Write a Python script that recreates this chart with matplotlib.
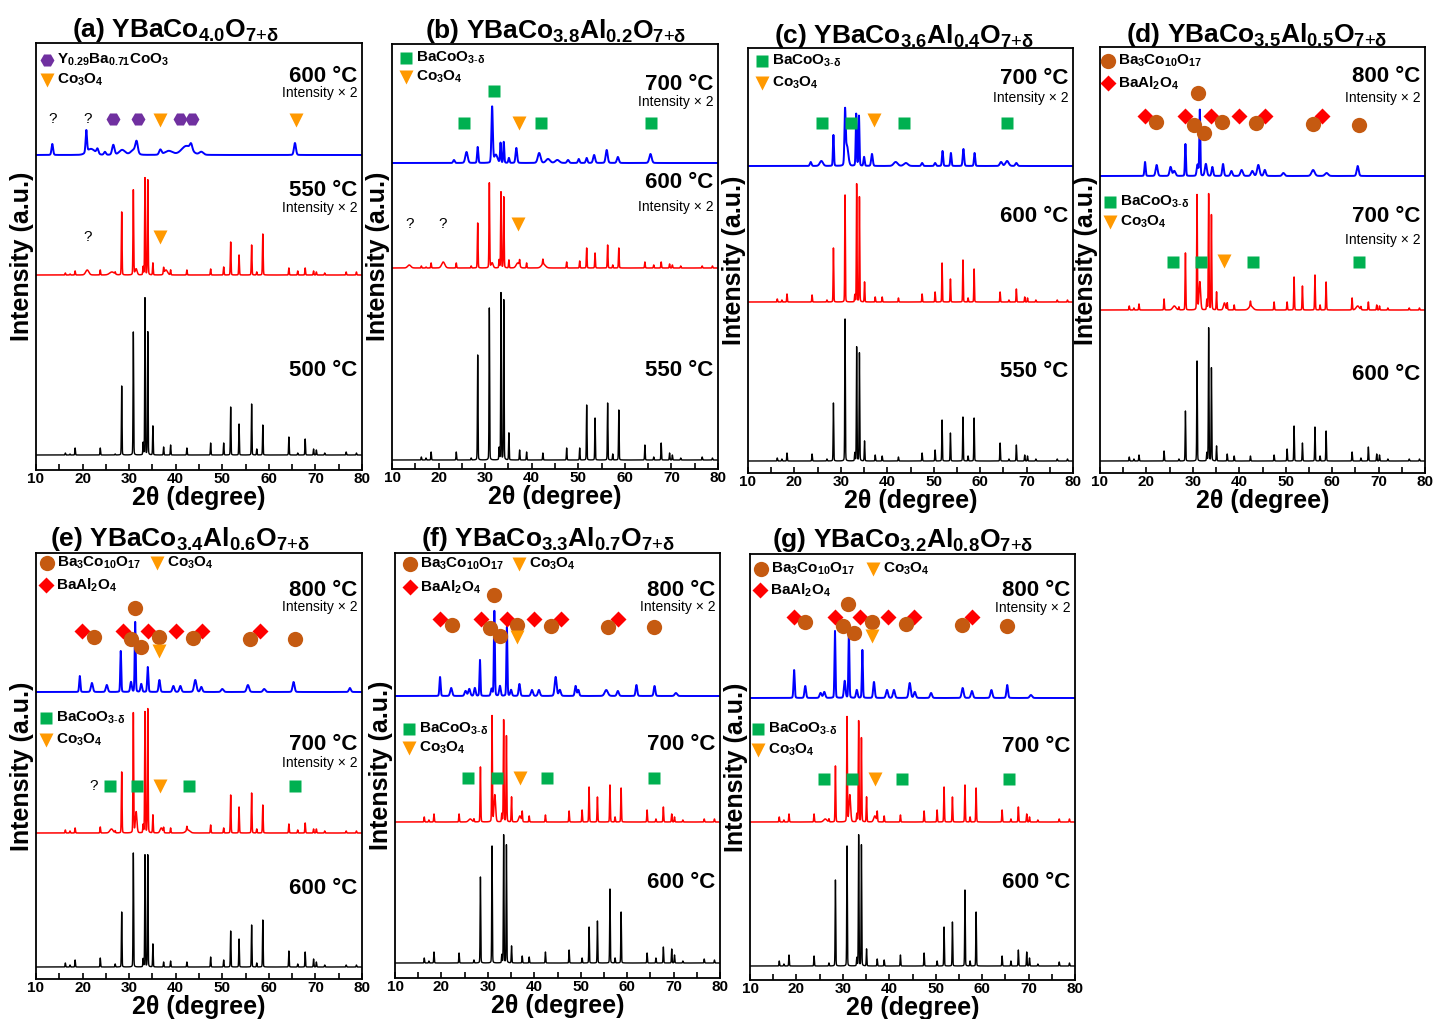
import numpy as np
import matplotlib
matplotlib.use('Agg')
import matplotlib.pyplot as plt
from matplotlib.transforms import blended_transform_factory

plt.rcParams['font.family'] = ['Liberation Sans', 'DejaVu Sans']
plt.rcParams['mathtext.fontset'] = 'custom'
plt.rcParams['mathtext.rm'] = 'Liberation Sans'
plt.rcParams['mathtext.bf'] = 'Liberation Sans:bold'
plt.rcParams['mathtext.it'] = 'Liberation Sans:italic'
plt.rcParams['mathtext.default'] = 'bf'

# ---------------------------------------------------------------- data
# reflections of the main YBaCo4O7-type phase (2theta, deg)
MAIN_POS = [16.3, 17.3, 18.4, 23.8, 27.0, 28.4, 30.9, 33.0, 33.4, 34.0,
            35.1, 37.4, 38.9, 42.4, 47.5, 50.3, 51.8, 53.6, 56.3, 57.4,
            58.7, 64.3, 66.2, 67.8, 69.6, 70.2, 72.0, 76.6, 78.8]

# peak heights (a.u.) of the main phase, one list per pattern
a_500 = [2, 1, 7, 7, 1, 69, 123, 12, 157, 123, 29, 8, 10, 7, 12, 12, 48, 31, 51, 6, 30, 18, 2, 16, 6, 5, 2, 3, 2]
a_550 = [2, 1, 4, 5, 2, 63, 85, 8, 97, 95, 12, 6, 5, 5, 6, 8, 33, 20, 30, 3, 41, 7, 4, 7, 4, 3, 2, 3, 3]
b_550 = [3, 2, 8, 8, 2, 105, 152, 12, 167, 160, 27, 10, 8, 7, 12, 12, 55, 42, 57, 6, 50, 15, 3, 17, 7, 5, 2, 3, 2]
b_600 = [2, 1, 5, 5, 2, 45, 85, 8, 76, 71, 8, 6, 5, 5, 6, 7, 20, 15, 23, 3, 20, 6, 3, 6, 4, 3, 2, 2, 2]
c_550 = [3, 2, 8, 7, 2, 58, 142, 8, 114, 108, 20, 6, 5, 4, 8, 11, 41, 28, 44, 5, 43, 18, 2, 16, 6, 5, 2, 2, 2]
c_600 = [3, 2, 8, 7, 2, 54, 107, 7, 118, 105, 20, 5, 5, 4, 8, 10, 39, 23, 42, 4, 33, 10, 2, 13, 5, 4, 2, 2, 2]
d_600 = [4, 2, 6, 10, 2, 50, 100, 8, 133, 93, 15, 7, 5, 5, 6, 12, 35, 18, 34, 5, 30, 9, 3, 14, 7, 6, 2, 2, 2]
d_700 = [4, 2, 6, 11, 3, 57, 115, 10, 116, 95, 18, 7, 5, 5, 8, 8, 33, 24, 35, 5, 28, 12, 3, 8, 5, 4, 2, 2, 2]
e_600 = [4, 2, 7, 9, 3, 55, 114, 8, 112, 112, 23, 5, 6, 5, 10, 7, 36, 28, 42, 4, 47, 16, 3, 15, 8, 5, 2, 2, 2]
e_700 = [3, 2, 5, 6, 2, 61, 120, 8, 121, 124, 18, 5, 5, 4, 8, 5, 38, 26, 40, 4, 28, 9, 3, 10, 4, 4, 2, 2, 2]
f_600 = [5, 2, 11, 10, 3, 86, 117, 8, 128, 118, 17, 7, 6, 11, 13, 5, 36, 42, 74, 5, 51, 10, 5, 16, 14, 8, 2, 4, 3]
f_700 = [5, 2, 8, 8, 3, 55, 106, 8, 102, 86, 25, 10, 6, 7, 11, 12, 35, 25, 37, 5, 34, 12, 3, 15, 8, 5, 2, 3, 3]
g_600 = [5, 2, 11, 10, 3, 86, 120, 8, 131, 121, 17, 7, 6, 11, 13, 5, 39, 44, 76, 5, 54, 10, 5, 16, 14, 8, 2, 4, 3]
g_700 = [5, 2, 8, 8, 3, 56, 105, 8, 101, 84, 25, 10, 6, 7, 11, 12, 35, 25, 37, 5, 34, 12, 3, 15, 8, 5, 2, 3, 3]

# extra / secondary-phase peaks: (2theta, height, fwhm)
a_550_extra = [(21.0, 5, 0.8), (26.3, 3, 1.2), (31.5, 6, 0.5), (37.9, 5, 0.8)]
b_600_extra = [(13.7, 3, 0.8), (21.0, 6, 0.8), (31.5, 5, 0.5), (37.0, 5, 0.8), (42.5, 4, 1.0)]
d_700_extra = [(26.0, 4, 0.8), (31.5, 28, 0.4), (36.8, 7, 0.5), (42.5, 4, 1.0), (65.5, 4, 0.8)]
e_700_extra = [(26.2, 4, 0.8), (31.5, 21, 0.4), (36.9, 5, 0.6), (42.6, 3, 1.0)]
f_700_extra = [(26.2, 3, 0.8), (31.5, 27, 0.4), (36.9, 6, 0.6)]
g_700_extra = [(26.2, 3, 0.8), (31.5, 27, 0.4), (36.9, 6, 0.6)]

# high-temperature (blue) patterns: (2theta, height, fwhm)
a_600 = [(13.5, 11, 0.4), (20.8, 22, 0.35), (21.8, 6, 2.0), (23.2, 5, 0.5), (24.8, 3, 0.5),
         (26.6, 10, 0.6), (28.5, 5, 1.5), (31.0, 5, 1.5), (31.6, 11, 0.6), (36.7, 5, 0.6),
         (38.5, 4, 2.0), (42.3, 9, 2.5), (43.3, 6, 0.6), (45.5, 3, 1.0), (65.6, 12, 0.5)]
b_700 = [(23.3, 3, 0.4), (26.0, 11, 0.6), (28.4, 16, 0.3), (31.5, 56, 0.35), (32.3, 8, 0.8),
         (33.3, 20, 0.25), (34.0, 21, 0.25), (35.1, 5, 0.3), (36.7, 15, 0.4), (41.6, 10, 0.7),
         (43.5, 4, 1.0), (45.5, 3, 1.0), (47.8, 3, 0.5), (50.1, 4, 0.4), (51.8, 5, 0.4),
         (53.4, 8, 0.5), (56.1, 13, 0.5), (58.5, 6, 0.5), (65.5, 9, 0.6)]
c_700 = [(23.5, 4, 0.4), (25.8, 5, 0.8), (28.4, 31, 0.25), (30.9, 50, 0.3), (31.3, 20, 0.7),
         (33.3, 52, 0.25), (33.9, 50, 0.25), (35.0, 9, 0.3), (36.7, 12, 0.4), (41.8, 4, 1.0),
         (44.0, 3, 1.0), (47.5, 3, 0.4), (50.3, 3, 0.4), (51.9, 15, 0.3), (53.7, 13, 0.3),
         (56.4, 17, 0.35), (58.8, 13, 0.3), (64.5, 4, 0.6), (65.8, 5, 0.8), (67.8, 3, 0.5)]
d_800 = [(19.7, 14, 0.3), (22.2, 11, 0.5), (25.2, 9, 0.5), (26.0, 5, 0.6), (28.4, 32, 0.25),
         (31.0, 11, 0.4), (31.5, 66, 0.25), (32.8, 12, 0.5), (34.2, 9, 0.4), (36.5, 12, 0.4),
         (38.3, 5, 0.5), (40.5, 6, 0.6), (42.8, 5, 0.6), (44.1, 11, 0.6), (45.5, 6, 0.5),
         (49.5, 3, 0.6), (55.9, 6, 0.8), (58.8, 3, 0.8), (65.5, 10, 0.5)]
e_800 = [(19.4, 16, 0.3), (22.0, 9, 0.5), (25.2, 7, 0.5), (28.2, 41, 0.25), (30.4, 10, 0.4),
         (31.3, 70, 0.25), (32.6, 8, 0.4), (34.0, 25, 0.3), (36.5, 12, 0.4), (39.5, 6, 0.5),
         (41.0, 6, 0.5), (44.2, 12, 0.6), (45.5, 5, 0.5), (50.0, 3, 0.6), (55.5, 7, 0.6),
         (59.0, 3, 0.6), (65.3, 10, 0.5), (77.4, 4, 0.5)]
f_800 = [(19.7, 19, 0.3), (22.1, 8, 0.5), (25.2, 5, 0.5), (26.0, 7, 0.5), (27.2, 8, 0.4),
         (28.3, 36, 0.25), (30.8, 7, 0.4), (31.4, 85, 0.25), (32.6, 10, 0.4), (34.1, 69, 0.25),
         (35.0, 6, 0.4), (36.8, 12, 0.4), (39.5, 6, 0.5), (41.0, 6, 0.5), (44.6, 19, 0.5),
         (45.5, 6, 0.5), (48.9, 10, 0.4), (49.5, 6, 0.4), (55.5, 6, 0.8), (58.0, 5, 0.5),
         (62.0, 11, 0.4), (65.9, 10, 0.4), (70.5, 3, 0.6)]
g_800 = [(19.5, 28, 0.3), (21.9, 12, 0.4), (25.2, 5, 0.5), (26.0, 6, 0.5), (28.3, 67, 0.25),
         (30.4, 17, 0.4), (31.3, 65, 0.25), (33.0, 8, 0.4), (34.2, 48, 0.25), (36.7, 16, 0.4),
         (39.5, 8, 0.5), (41.0, 8, 0.5), (44.4, 15, 0.5), (45.5, 6, 0.5), (49.0, 5, 0.5),
         (55.8, 10, 0.5), (57.8, 7, 0.5), (62.0, 8, 0.5), (65.4, 13, 0.4), (70.5, 3, 0.6)]

# phase markers (2theta positions)
a_hex = [26.5, 32.0, 40.9, 43.4]
a_tri_600 = [36.6, 65.8]
a_q_600 = [13.5, 21.0]
a_q_550 = [21.0]
a_tri_550 = [36.6]
b_sq = [25.4, 31.8, 42.1, 65.7]
b_tri_700 = [37.2]
b_q_600 = [13.7, 20.9]
b_tri_600 = [37.0]
c_sq = [25.9, 32.2, 43.6, 65.7]
c_tri = [37.1]
d_dia = [19.7, 28.4, 34.0, 39.9, 45.6, 57.9]
d_circ = [22.1, 31.1, 30.2, 32.5, 36.3, 43.7, 55.9, 65.7]
d_sq = [25.7, 31.8, 43.0, 65.8]
d_tri = [36.8]
e_dia = [19.8, 28.6, 34.0, 40.0, 45.6, 58.1]
e_circ = [22.4, 31.3, 30.4, 32.6, 36.4, 43.7, 55.9, 65.6]
e_tri_800 = [36.4]
e_q_700 = [22.3]
e_sq = [25.8, 31.7, 42.8, 65.7]
e_tri_700 = [36.7]
f_dia = [19.7, 28.5, 34.1, 40.0, 45.8, 58.1]
f_circ = [22.2, 31.4, 30.5, 32.6, 36.3, 43.7, 55.9, 65.8]
f_tri_800 = [36.3]
f_sq = [25.8, 31.9, 42.8, 65.8]
f_tri_700 = [36.9]
g_dia = [19.5, 28.3, 33.7, 39.8, 45.4, 57.9]
g_circ = [21.9, 31.0, 30.1, 32.4, 36.2, 43.5, 55.7, 65.4]
g_tri_800 = [36.2]
g_sq = [26.0, 31.9, 42.8, 65.8]
g_tri_700 = [36.9]

# ---------------------------------------------------------------- styles
W, H = 1437, 1019
BLUE, RED, BLACK = '#0000FF', '#FF0000', '#000000'
LW = {BLUE: 1.4, RED: 1.1, BLACK: 1.0}
MK = {
    'hex': dict(marker='H', color='#7030A0', ms=10),
    'tri': dict(marker='v', color='#FF9900', ms=10),
    'sq': dict(marker='s', color='#00B050', ms=8),
    'dia': dict(marker='D', color='#FF0000', ms=8),
    'circ': dict(marker='o', color='#C55A11', ms=11),
}
NAMES = {
    'hex': r'Y$_{0.29}$Ba$_{0.71}$CoO$_{3}$',
    'tri': r'Co$_{3}$O$_{4}$',
    'sq': r'BaCoO$_{3\text{-}\delta}$',
    'dia': r'BaAl$_{2}$O$_{4}$',
    'circ': r'Ba$_{3}$Co$_{10}$O$_{17}$',
}

TT = np.arange(10, 80.0001, 0.02)


def fx(px):
    return px / W


def fy(py):
    return 1 - py / H


def profile(peaks):
    y = np.zeros_like(TT)
    for pos, h, w in peaks:
        s = w / 2.3548
        g = np.exp(-0.5 * ((TT - pos) / s) ** 2)
        lor = 1.0 / (1.0 + ((TT - pos) / (w / 2)) ** 2)
        y += h * (0.85 * g + 0.15 * lor)
    return y


def main_peaks(heights, fwhm):
    return [(p, h, fwhm) for p, h in zip(MAIN_POS, heights)]


def title(letter, comp):
    return '(' + letter + ') YBaCo$_{' + comp[0] + '}$' + \
        ('Al$_{' + comp[1] + '}$' if comp[1] else '') + r'O$_{7\text{+}\delta}$'


fig = plt.figure(figsize=(W / 100, H / 100), dpi=100)

# panel layout: box (l, t, r, b) in px, title, patterns, labels, markers
PANELS = [
    dict(box=(36, 43, 362, 470), title=title('a', ('4.0', None)), tc=(175, 37),
         curves=[(main_peaks(a_500, 0.15), 455, BLACK),
                 (main_peaks(a_550, 0.17) + a_550_extra, 275, RED),
                 (a_600, 155, BLUE)],
         temps=[('600 °C', 76, '× 2', 93), ('550 °C', 190, '× 2', 208), ('500 °C', 370, None, 0)],
         legend=[('hex', 47, 60), ('tri', 47, 80)],
         marks=[('hex', a_hex, 119), ('tri', a_tri_600, 120), ('q', a_q_600, 119),
                ('q', a_q_550, 237), ('tri', a_tri_550, 237)]),
    dict(box=(392, 44, 718, 469), title=title('b', ('3.8', '0.2')), tc=(556, 38),
         curves=[(main_peaks(b_550, 0.15), 460, BLACK),
                 (main_peaks(b_600, 0.17) + b_600_extra, 268, RED),
                 (b_700, 163, BLUE)],
         temps=[('700 °C', 84, '× 2', 102), ('600 °C', 183, '× 2', 207), ('550 °C', 371, None, 0)],
         legend=[('sq', 406, 58), ('tri', 406, 77)],
         marks=[('sq', b_sq, [123, 91, 123, 123]), ('tri', b_tri_700, 123),
                ('q', b_q_600, 224), ('tri', b_tri_600, 224)]),
    dict(box=(748, 48, 1073, 473), title=title('c', ('3.6', '0.4')), tc=(904, 43),
         curves=[(main_peaks(c_550, 0.15), 461, BLACK),
                 (main_peaks(c_600, 0.15), 302, RED),
                 (c_700, 166, BLUE)],
         temps=[('700 °C', 79, '× 2', 98), ('600 °C', 217, None, 0), ('550 °C', 372, None, 0)],
         legend=[('sq', 762, 61), ('tri', 762, 83)],
         marks=[('sq', c_sq, 123), ('tri', c_tri, 120)]),
    dict(box=(1100, 47, 1425, 473), title=title('d', ('3.5', '0.5')), tc=(1257, 42),
         curves=[(main_peaks(d_600, 0.15), 461, BLACK),
                 (main_peaks(d_700, 0.17) + d_700_extra, 310, RED),
                 (d_800, 176, BLUE)],
         temps=[('800 °C', 76, '× 2', 98), ('700 °C', 216, '× 2', 240), ('600 °C', 375, None, 0)],
         legend=[('circ', 1108, 61), ('dia', 1108, 83), ('sq', 1110, 202), ('tri', 1110, 222)],
         marks=[('dia', d_dia, 116), ('circ', d_circ, [122, 93, 125, 133, 122, 123, 124, 125]),
                ('sq', d_sq, 262), ('tri', d_tri, 261)]),
    dict(box=(36, 553, 362, 979), title=title('e', ('3.4', '0.6')), tc=(180, 546),
         curves=[(main_peaks(e_600, 0.15), 967, BLACK),
                 (main_peaks(e_700, 0.17) + e_700_extra, 833, RED),
                 (e_800, 692, BLUE)],
         temps=[('800 °C', 590, '× 2', 607), ('700 °C', 745, '× 2', 763), ('600 °C', 888, None, 0)],
         legend=[('circ', 47, 563), ('tri', 157, 563), ('dia', 46, 585), ('sq', 46, 718), ('tri', 46, 740)],
         marks=[('dia', e_dia, 631), ('circ', e_circ, [637, 608, 639, 647, 637, 638, 639, 639]),
                ('tri', e_tri_800, 651), ('q', e_q_700, 786), ('sq', e_sq, 786), ('tri', e_tri_700, 786)]),
    dict(box=(395, 553, 720, 978), title=title('f', ('3.3', '0.7')), tc=(548, 546),
         curves=[(main_peaks(f_600, 0.15), 963, BLACK),
                 (main_peaks(f_700, 0.17) + f_700_extra, 822, RED),
                 (f_800, 696, BLUE)],
         temps=[('800 °C', 590, '× 2', 607), ('700 °C', 745, None, 0), ('600 °C', 883, None, 0)],
         legend=[('circ', 410, 564), ('tri', 519, 564), ('dia', 410, 587), ('sq', 409, 729), ('tri', 409, 748)],
         marks=[('dia', f_dia, 619), ('circ', f_circ, [625, 595, 628, 636, 625, 626, 627, 627]),
                ('tri', f_tri_800, 637), ('sq', f_sq, 778), ('tri', f_tri_700, 778)]),
    dict(box=(750, 554, 1075, 980), title=title('g', ('3.2', '0.8')), tc=(903, 547),
         curves=[(main_peaks(g_600, 0.15), 966, BLACK),
                 (main_peaks(g_700, 0.17) + g_700_extra, 822, RED),
                 (g_800, 698, BLUE)],
         temps=[('800 °C', 590, '× 2', 608), ('700 °C', 747, None, 0), ('600 °C', 883, None, 0)],
         legend=[('circ', 761, 569), ('tri', 873, 569), ('dia', 760, 590), ('sq', 758, 729), ('tri', 758, 750)],
         marks=[('dia', g_dia, 617), ('circ', g_circ, [622, 604, 626, 633, 622, 624, 625, 626]),
                ('tri', g_tri_800, 636), ('sq', g_sq, 779), ('tri', g_tri_700, 779)]),
]

for p in PANELS:
    l, t, r, b = p['box']
    ax = fig.add_axes([fx(l), fy(b), (r - l) / W, (b - t) / H])
    ax.set_xlim(10, 80)
    ax.set_ylim(0, b - t)
    for peaks, base, col in p['curves']:
        ax.plot(TT, (b - base) + profile(peaks), color=col, lw=LW[col])

    ax.set_xticks(range(10, 81, 10))
    ax.set_xticks(range(15, 80, 10), minor=True)
    ax.tick_params(axis='x', which='both', direction='in', length=4, width=1.2, pad=1.5,
                   labelsize=11)
    for lab in ax.get_xticklabels():
        lab.set_fontweight('bold')
    ax.set_yticks([])
    for sp in ax.spines.values():
        sp.set_linewidth(1.3)

    # titles and axis labels
    fig.text(fx(p['tc'][0]), fy(p['tc'][1]), p['title'], ha='center', va='baseline',
             fontsize=19, fontweight='bold')
    fig.text(fx((l + r) / 2), fy(b + 28), '2θ (degree)', ha='center', va='center',
             fontsize=18, fontweight='bold')
    fig.text(fx(l - 14), fy((t + b) / 2), 'Intensity (a.u.)', ha='center', va='center',
             rotation=90, fontsize=18, fontweight='bold')

    # temperature labels
    for temp, ty, mult, my in p['temps']:
        fig.text(fx(r - 5), fy(ty), temp, ha='right', va='center', fontsize=16,
                 fontweight='bold')
        if mult:
            fig.text(fx(r - 4), fy(my), 'Intensity ' + mult, ha='right', va='center',
                     fontsize=10)

    # legends
    for key, lx, ly in p['legend']:
        fig.lines.append(plt.Line2D([fx(lx)], [fy(ly)], transform=fig.transFigure,
                                    ls='none', mec='none', **MK[key]))
        fig.text(fx(lx + 10), fy(ly), NAMES[key], ha='left', va='center', fontsize=11,
                 fontweight='bold')

    # phase markers above the peaks
    trans = blended_transform_factory(ax.transData, fig.transFigure)
    for key, xs, ys in p['marks']:
        ys = ys if isinstance(ys, list) else [ys] * len(xs)
        for xv, yv in zip(xs, ys):
            if key == 'q':
                ax.text(xv, fy(yv), '?', transform=trans, ha='center', va='center',
                        fontsize=11)
            else:
                ax.plot([xv], [fy(yv)], transform=trans, ls='none', mec='none',
                        clip_on=False, **MK[key])

fig.savefig('out.png', dpi=100)
